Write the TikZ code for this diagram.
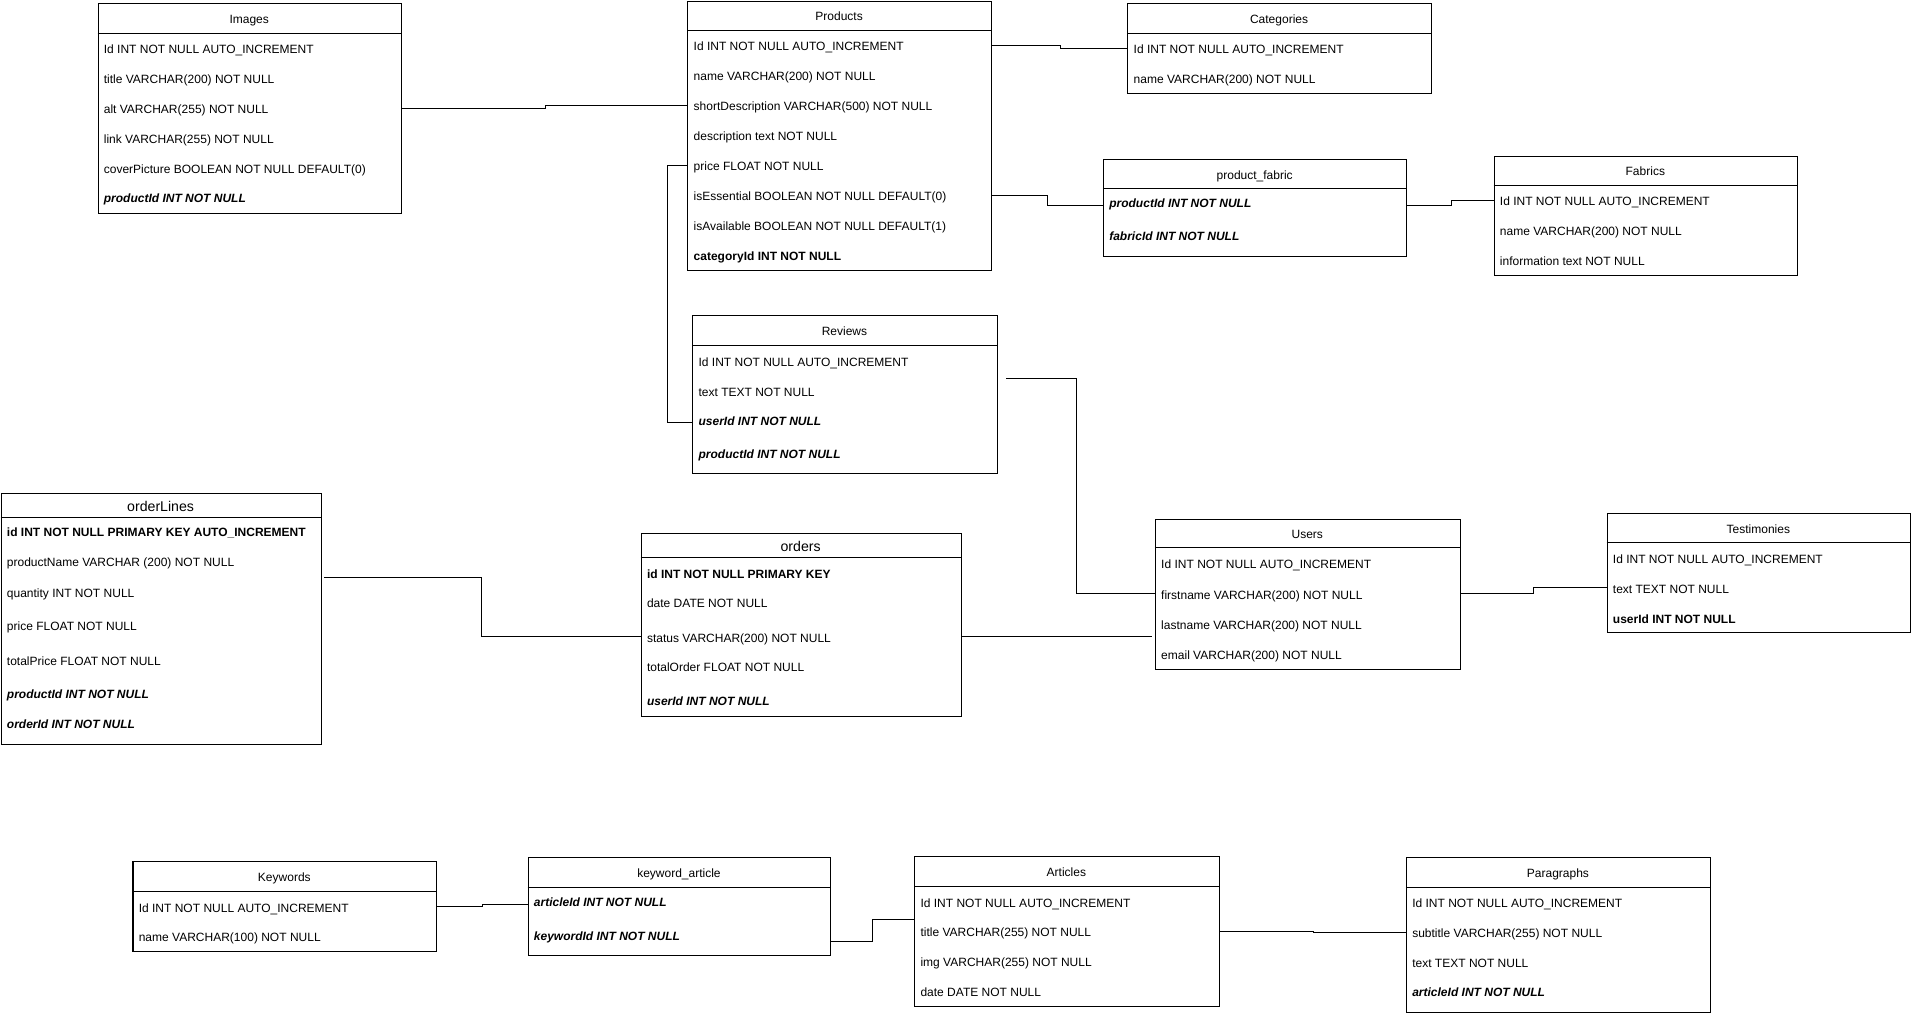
\documentclass[tikz,border=0pt]{standalone}
\usepackage{fontspec}
\setmainfont{Liberation Sans}
\tikzset{
  tbl/.style={draw, line width=0.85pt, inner sep=0pt, anchor=north west},
  hdr/.style={font=\fontsize{9.85}{11}\selectfont, inner sep=0pt, text height=8.8pt, text depth=0pt},
  bighdr/.style={font=\fontsize{11.6}{13}\selectfont, inner sep=0pt, text height=10.2pt, text depth=0pt},
  fldst/.style={font=\fontsize{9.85}{11}\selectfont, anchor=west, inner sep=0pt, text height=8.8pt, text depth=0pt},
  pkst/.style={fldst, font=\fontsize{9.85}{11}\selectfont\bfseries},
  fkst/.style={fldst, font=\fontsize{9.85}{11}\selectfont\bfseries\itshape},
  link/.style={line width=0.8pt},
}
% name, left, top, right, header line, bottom, title, title style
\newcommand\erbox[8]{%
  \node[tbl, minimum width={(#4-(#2))*1pt}, minimum height={(#6-(#3))*1pt}] (#1) at (#2,#3) {};
  \draw[line width=0.85pt] (#2,#5) -- (#4,#5);
  \node[#8] (#1-t) at ({(#2+#4)/2},{(#3+#5)/2}) {#7};
}
% name, left, y, style, text
\newcommand\erfld[5]{\node[#4] (#1) at (#2+5,#3) {#5};}
\begin{document}
\begin{tikzpicture}[x=1pt,y=-1pt]
\fill[white] (0,0) rectangle (1568,833);
\useasboundingbox (0,0) rectangle (1568,833);

% Images
\erbox{img}{80}{2.7}{329}{27.3}{175.1}{Images}{hdr}
\erfld{img-1}{80}{39.6}{fldst}{Id INT NOT NULL AUTO\_INCREMENT}
\erfld{img-2}{80}{64.2}{fldst}{title VARCHAR(200) NOT NULL}
\erfld{img-3}{80}{88.8}{fldst}{alt VARCHAR(255) NOT NULL}
\erfld{img-4}{80}{113.4}{fldst}{link VARCHAR(255) NOT NULL}
\erfld{img-5}{80}{138.0}{fldst}{coverPicture BOOLEAN NOT NULL DEFAULT(0)}
\erfld{img-6}{80}{162.0}{fkst}{productId INT NOT NULL}

% Products
\erbox{prod}{564}{0.5}{813}{25}{221.5}{Products}{hdr}
\erfld{prod-1}{564}{37.3}{fldst}{Id INT NOT NULL AUTO\_INCREMENT}
\erfld{prod-2}{564}{61.9}{fldst}{name VARCHAR(200) NOT NULL}
\erfld{prod-3}{564}{86.5}{fldst}{shortDescription VARCHAR(500) NOT NULL}
\erfld{prod-4}{564}{111.1}{fldst}{description text NOT NULL}
\erfld{prod-5}{564}{135.7}{fldst}{price FLOAT NOT NULL}
\erfld{prod-6}{564}{160.3}{fldst}{isEssential BOOLEAN NOT NULL DEFAULT(0)}
\erfld{prod-7}{564}{184.9}{fldst}{isAvailable BOOLEAN NOT NULL DEFAULT(1)}
\erfld{prod-8}{564}{209.5}{pkst}{categoryId INT NOT NULL}

% Categories
\erbox{cat}{925}{2.7}{1174}{27.3}{76.1}{Categories}{hdr}
\erfld{cat-1}{925}{39.6}{fldst}{Id INT NOT NULL AUTO\_INCREMENT}
\erfld{cat-2}{925}{64.2}{fldst}{name VARCHAR(200) NOT NULL}

% product_fabric
\erbox{pf}{905}{130.2}{1154}{154.8}{210}{product\_fabric}{hdr}
\erfld{pf-1}{905}{165.5}{fkst}{productId INT NOT NULL}
\erfld{pf-2}{905}{193.2}{fkst}{fabricId INT NOT NULL}

% Fabrics
\erbox{fab}{1225.5}{127.7}{1474.5}{152.3}{226}{Fabrics}{hdr}
\erfld{fab-1}{1225.5}{164.6}{fldst}{Id INT NOT NULL AUTO\_INCREMENT}
\erfld{fab-2}{1225.5}{189.2}{fldst}{name VARCHAR(200) NOT NULL}
\erfld{fab-3}{1225.5}{213.8}{fldst}{information text NOT NULL}

% Reviews
\erbox{rev}{568}{258.7}{817.8}{283.3}{388.4}{Reviews}{hdr}
\erfld{rev-1}{568}{296}{fldst}{Id INT NOT NULL AUTO\_INCREMENT}
\erfld{rev-2}{568}{320.6}{fldst}{text TEXT NOT NULL}
\erfld{rev-3}{568}{344.5}{fkst}{userId INT NOT NULL}
\erfld{rev-4}{568}{371.4}{fkst}{productId INT NOT NULL}

% orderLines
\erbox{ol}{0.5}{404.2}{263.1}{424.9}{610.5}{orderLines}{bighdr}
\erfld{ol-1}{0.5}{436.2}{pkst}{id INT NOT NULL PRIMARY KEY AUTO\_INCREMENT}
\erfld{ol-2}{0.5}{460.8}{fldst}{productName VARCHAR (200) NOT NULL}
\erfld{ol-3}{0.5}{485.5}{fldst}{quantity INT NOT NULL}
\erfld{ol-4}{0.5}{513.3}{fldst}{price FLOAT NOT NULL}
\erfld{ol-5}{0.5}{541.5}{fldst}{totalPrice FLOAT NOT NULL}
\erfld{ol-6}{0.5}{568.9}{fkst}{productId INT NOT NULL}
\erfld{ol-7}{0.5}{593.5}{fkst}{orderId INT NOT NULL}

% orders
\erbox{ord}{525.7}{437}{788.2}{457.8}{587.5}{orders}{bighdr}
\erfld{ord-1}{525.7}{469.9}{pkst}{id INT NOT NULL PRIMARY KEY}
\erfld{ord-2}{525.7}{493.9}{fldst}{date DATE NOT NULL}
\erfld{ord-3}{525.7}{522.6}{fldst}{status VARCHAR(200) NOT NULL}
\erfld{ord-4}{525.7}{546.4}{fldst}{totalOrder FLOAT NOT NULL}
\erfld{ord-5}{525.7}{574.3}{fkst}{userId INT NOT NULL}

% Users
\erbox{usr}{947.6}{425.6}{1197.7}{449.4}{548.7}{Users}{hdr}
\erfld{usr-1}{947.6}{462.4}{fldst}{Id INT NOT NULL AUTO\_INCREMENT}
\erfld{usr-2}{947.6}{487.2}{fldst}{firstname VARCHAR(200) NOT NULL}
\erfld{usr-3}{947.6}{511.8}{fldst}{lastname VARCHAR(200) NOT NULL}
\erfld{usr-4}{947.6}{536.4}{fldst}{email VARCHAR(200) NOT NULL}

% Testimonies
\erbox{tes}{1318.2}{420.6}{1567.3}{445.3}{518.8}{Testimonies}{hdr}
\erfld{tes-1}{1318.2}{457.6}{fldst}{Id INT NOT NULL AUTO\_INCREMENT}
\erfld{tes-2}{1318.2}{482.2}{fldst}{text TEXT NOT NULL}
\erfld{tes-3}{1318.2}{506.8}{pkst}{userId INT NOT NULL}

% Keywords
\erbox{kw}{108.7}{706.7}{357.9}{731.3}{780.3}{Keywords}{hdr}
\erfld{kw-1}{108.7}{743.9}{fldst}{Id INT NOT NULL AUTO\_INCREMENT}
\erfld{kw-2}{108.7}{768.5}{fldst}{name VARCHAR(100) NOT NULL}

% keyword_article
\erbox{ka}{432.9}{703.4}{681.3}{728}{783.8}{keyword\_article}{hdr}
\erfld{ka-1}{432.9}{739}{fkst}{articleId INT NOT NULL}
\erfld{ka-2}{432.9}{767.1}{fkst}{keywordId INT NOT NULL}

% Articles
\erbox{art}{750.1}{702.3}{999.8}{727.2}{825.4}{Articles}{hdr}
\erfld{art-1}{750.1}{739.8}{fldst}{Id INT NOT NULL AUTO\_INCREMENT}
\erfld{art-2}{750.1}{764.4}{fldst}{title VARCHAR(255) NOT NULL}
\erfld{art-3}{750.1}{789}{fldst}{img VARCHAR(255) NOT NULL}
\erfld{art-4}{750.1}{813.6}{fldst}{date DATE NOT NULL}

% Paragraphs
\erbox{par}{1153.6}{703.4}{1403}{727.8}{830}{Paragraphs}{hdr}
\erfld{par-1}{1153.6}{740.3}{fldst}{Id INT NOT NULL AUTO\_INCREMENT}
\erfld{par-2}{1153.6}{765}{fldst}{subtitle VARCHAR(255) NOT NULL}
\erfld{par-3}{1153.6}{789.6}{fldst}{text TEXT NOT NULL}
\erfld{par-4}{1153.6}{813.1}{fkst}{articleId INT NOT NULL}

% connector end points
\path (pf.west |- pf-1) ++(0,3.2) coordinate (pfin);
\path (pf.east |- pf-1) ++(0,3.0) coordinate (pfout);
\path (rev.west |- rev-3) ++(0,2.3) coordinate (revin);
\path (rev.north east) ++(6.8,52) coordinate (revout);
\path (ol.north east) ++(2.2,69.5) coordinate (olout);
\path (usr.west |- ord-3) ++(-2,0) coordinate (usrin);
\path (ka.west |- ka-1) ++(0,3) coordinate (kain);
\path (ka.east |- ka-2) ++(0,5.5) coordinate (kaout);
\path (art.north west) ++(0,52.5) coordinate (artin);

% connectors
\draw[link] (img.east |- img-3) -- ++(117.8,0) |- (prod.west |- prod-3);
\draw[link] (prod.east |- prod-1) -- ++(56,0) |- (cat.west |- cat-1);
\draw[link] (prod.east |- prod-6) -- ++(46,0) |- (pfin);
\draw[link] (pfout) -- ++(36,0) |- (fab.west |- fab-1);
\draw[link] (prod.west |- prod-5) -- ++(-16.5,0) |- (revin);
\draw[link] (revout) -- ++(58.2,0) |- (usr.west |- usr-2);
\draw[link] (olout) -- ++(128.7,0) |- (ord.west |- ord-3);
\draw[link] (ord.east |- ord-3) -- (usrin);
\draw[link] (usr.east |- usr-2) -- ++(59.6,0) |- (tes.west |- tes-2);
\draw[link] (kw.east |- kw-1) -- ++(37.3,0) |- (kain);
\draw[link] (kaout) -- ++(33.7,0) |- (artin);
\draw[link] (art.east |- art-2) -- ++(76.7,0) |- (par.west |- par-2);
\end{tikzpicture}
\end{document}
